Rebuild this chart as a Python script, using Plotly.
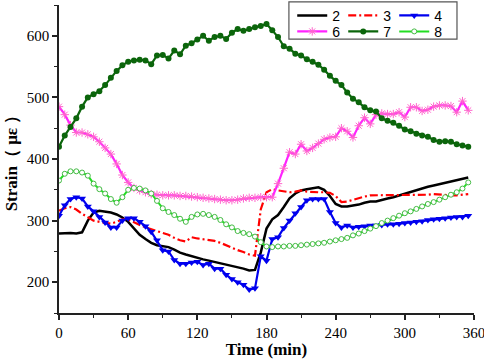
import plotly.graph_objects as go

time_min = list(range(0, 360, 5))

s2 = [279, 280, 280, 279, 281, 300, 313, 316, 315, 313, 310, 305, 298, 287, 277, 270, 264, 260,
      258, 257, 253, 248, 245, 242, 239, 237, 235, 233, 231, 229, 227, 225, 222, 219, 220, 248,
      287, 302, 309, 322, 336, 344, 349, 351, 353, 354, 350, 340, 327, 323, 323, 324, 326, 329,
      331, 331, 334, 336, 338, 341, 343, 346, 349, 352, 355, 357, 359, 361, 363, 365, 367, 370]

s3 = [316, 320, 322, 318, 311, 305, 300, 298, 296, 295, 298, 302, 302, 297, 293, 289, 286, 284,
      281, 277, 272, 268, 266, 273, 271, 270, 269, 267, 264, 260, 255, 252, 249, 245, 243, 318,
      346, 351, 349, 348, 346, 347, 349, 347, 346, 346, 346, 345, 340, 330, 331, 334, 337, 339,
      341, 341, 341, 341, 341, 341, 341, 341, 341, 342, 342, 343, 342, 341, 341, 341, 342, 343]

s4 = [308, 325, 335, 338, 336, 323, 315, 306, 297, 289, 289, 300, 304, 304, 298, 291, 282, 268,
      252, 250, 236, 230, 230, 232, 233, 228, 230, 222, 222, 212, 205, 200, 196, 188, 190, 242,
      235, 270, 273, 288, 300, 312, 322, 333, 335, 335, 335, 314, 296, 289, 292, 289, 290, 291,
      292, 292, 293, 294, 294, 295, 296, 297, 298, 299, 301, 302, 303, 304, 305, 306, 306, 308]

s6 = [485, 472, 455, 443, 443, 440, 436, 428, 418, 408, 392, 374, 362, 353, 349, 346, 343, 342,
      341, 341, 341, 340, 340, 339, 338, 337, 336, 335, 334, 333, 333, 334, 336, 337, 337, 338,
      338, 338, 360, 385, 411, 408, 424, 413, 418, 425, 432, 435, 436, 450, 445, 435, 454, 467,
      457, 472, 474, 473, 473, 476, 468, 484, 484, 478, 480, 485, 487, 487, 486, 476, 494, 479]

s7 = [420, 438, 452, 466, 485, 500, 505, 510, 520, 532, 543, 552, 558, 560, 561, 560, 554, 568,
      569, 563, 576, 570, 584, 588, 594, 600, 592, 598, 600, 595, 605, 611, 608, 611, 614, 616,
      619, 609, 598, 583, 579, 571, 568, 562, 558, 553, 545, 535, 527, 520, 508, 498, 492, 484,
      479, 477, 466, 462, 459, 454, 448, 445, 441, 438, 436, 431, 428, 429, 428, 424, 422, 420]

s8 = [365, 376, 380, 380, 378, 373, 360, 351, 344, 335, 329, 338, 350, 353, 352, 349, 344, 332,
      320, 314, 309, 303, 298, 306, 310, 311, 309, 306, 301, 294, 289, 283, 280, 278, 274, 265,
      258, 257, 258, 258, 259, 259, 260, 261, 262, 263, 264, 266, 268, 270, 272, 276, 279, 283,
      287, 291, 296, 300, 304, 308, 312, 315, 319, 323, 327, 330, 334, 338, 342, 346, 352, 362]

x_ticks = [0, 60, 120, 180, 240, 300, 360]
y_ticks = [200, 300, 400, 500, 600]

fig = go.Figure()

fig.add_trace(go.Scatter(x=time_min, y=s2, name="2", mode="lines",
                         line=dict(color="#000000", width=2.5), legend="legend"))
fig.add_trace(go.Scatter(x=time_min, y=s3, name="3", mode="lines",
                         line=dict(color="#FF0000", width=2.2, dash="8px,3px,2px,3px"), legend="legend"))
fig.add_trace(go.Scatter(x=time_min, y=s4, name="4", mode="lines+markers",
                         line=dict(color="#0000EE", width=2.2),
                         marker=dict(symbol="triangle-down", size=7, color="#0000EE"), legend="legend"))
fig.add_trace(go.Scatter(x=time_min, y=s6, name="6", mode="lines+markers",
                         line=dict(color="#FF22FF", width=2.2),
                         marker=dict(symbol="asterisk-open", size=7, color="#FF66CC",
                                     line=dict(width=1, color="#E060B0")), legend="legend2"))
fig.add_trace(go.Scatter(x=time_min, y=s7, name="7", mode="lines+markers",
                         line=dict(color="#0B650B", width=2.2),
                         marker=dict(symbol="circle", size=6, color="#0B650B"), legend="legend2"))
fig.add_trace(go.Scatter(x=time_min, y=s8, name="8", mode="lines+markers",
                         line=dict(color="#22DD22", width=2),
                         marker=dict(symbol="circle", size=5, color="#FFFFFF",
                                     line=dict(width=1, color="#44BB44")), legend="legend2"))

serif = "Liberation Serif, Times New Roman, serif"
sans = "Liberation Sans, Arial, sans-serif"

leg_common = dict(orientation="h", x=0.562, xanchor="left", yanchor="middle",
                  bgcolor="rgba(0,0,0,0)", borderwidth=0,
                  font=dict(family=sans, size=14, color="#000000"),
                  entrywidth=6, entrywidthmode="pixels", tracegroupgap=0, itemwidth=30)

fig.update_layout(
    width=484, height=359,
    margin=dict(l=59, r=10, t=5, b=46, autoexpand=False),
    paper_bgcolor="white", plot_bgcolor="white",
    font=dict(family=serif, size=15, color="#000000"),
    legend=dict(y=0.965, **leg_common),
    legend2=dict(y=0.913, **leg_common),
    xaxis=dict(range=[0, 360], tickvals=x_ticks, ticks="outside", ticklen=5, tickwidth=1.5,
               tickcolor="#222", showline=True, linecolor="#222", linewidth=1.5,
               showgrid=False, zeroline=False, ticklabeloverflow="allow",
               minor=dict(dtick=30, tick0=0, ticks="outside", ticklen=3, tickwidth=1.2, tickcolor="#222"),
               tickfont=dict(family=serif, size=15),
               title=dict(text="<b>Time (min)</b>", font=dict(family=serif, size=17), standoff=6)),
    yaxis=dict(range=[150, 650], tickvals=y_ticks, ticks="outside", ticklen=5, tickwidth=1.5,
               tickcolor="#222", showline=True, linecolor="#222", linewidth=1.5,
               showgrid=False, zeroline=False,
               minor=dict(dtick=50, tick0=0, ticks="outside", ticklen=3, tickwidth=1.2, tickcolor="#222"),
               tickfont=dict(family=serif, size=15),
               title=dict(text="<b>Strain（ με ）</b>", font=dict(family=serif, size=17), standoff=5)),
    shapes=[dict(type="rect", xref="paper", yref="paper", x0=0.554, x1=0.959, y0=0.889, y1=1.01,
                 line=dict(color="#555555", width=1.2), fillcolor="rgba(0,0,0,0)", layer="above")],
    showlegend=True,
)

fig.write_html("out.html", config={"displayModeBar": False},
               post_script="document.body.style.margin='0';document.body.style.overflow='hidden';")
